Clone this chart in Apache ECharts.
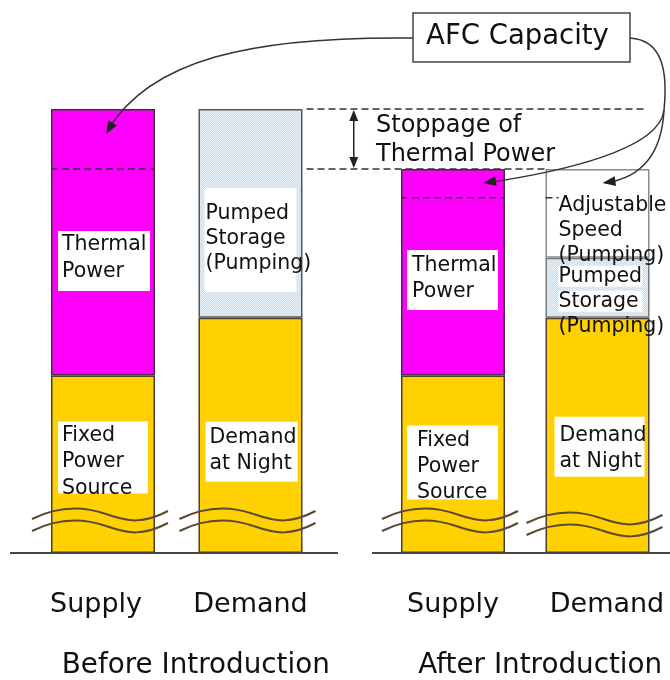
<!DOCTYPE html>
<html><head><meta charset="utf-8">
<script src="https://cdn.jsdelivr.net/npm/echarts@6/dist/echarts.min.js"></script>
<style>html,body{margin:0;padding:0;background:#fff}#c{width:670px;height:680px}</style>
</head><body><div id="c"></div>
<script>
// ---- data ----
const groupNames = ['Before Introduction', 'After Introduction'];
const categories = ['Supply', 'Demand'];
const beforeBase = [40, 53];        // Fixed Power Source / Demand at Night
const beforeUpper = [60, 47];       // Thermal Power / Pumped Storage (Pumping)
const afterBase = [40, 53];         // Fixed Power Source / Demand at Night
const afterUpper = [46.5, 13.5];    // Thermal Power / Pumped Storage (Pumping)
const afterAdjustable = ['-', 20];  // Adjustable Speed (Pumping)
const afcLevels = [86.5, 80];       // AFC capacity boundary inside Supply bars
const baseLabels = [['Fixed\nPower\nSource', 'Demand\nat Night'], ['Fixed\nPower\nSource', 'Demand\nat Night']];
const upperLabels = [['Thermal\nPower', 'Pumped\nStorage\n(Pumping)'], ['Thermal\nPower', 'Pumped\nStorage\n(Pumping)']];
const adjustableLabel = 'Adjustable\nSpeed\n(Pumping)';
const afcTitle = 'AFC Capacity';
const stoppageText = ['Stoppage of', 'Thermal Power'];

// ---- styling ----
const FONT = 'DejaVu Sans';
const YELLOW = '#FFD100', MAGENTA = '#FF00FF', EDGE = '#4d3d33';
const pat = document.createElement('canvas');
pat.width = 2; pat.height = 2;
(function () {
  const c = pat.getContext('2d');
  c.fillStyle = '#c4dbf1'; c.fillRect(0, 0, 2, 2);
  c.fillStyle = '#e8f2fb'; c.fillRect(0, 0, 1, 1); c.fillRect(1, 1, 1, 1);
})();
const BLUE = { image: pat, repeat: 'repeat' };

function boxLabel(text, pos, pad, width, lh, height) {
  const l = { show: true, formatter: text, position: pos, align: 'left', verticalAlign: 'top',
    color: '#111', fontFamily: FONT, fontSize: 20.5, lineHeight: lh, padding: pad, width: width,
    backgroundColor: '#fff', overflow: 'none' };
  if (height) l.height = height;
  return l;
}
function plainLabel(text, pos, lh) {
  return { show: true, formatter: text, position: pos, align: 'left', verticalAlign: 'top',
    color: '#111', fontFamily: FONT, fontSize: 20.5, lineHeight: lh };
}
function richLabel(text, pos, lh, boxedLines, w) {
  const lines = text.split('\n');
  const fmt = lines.map((s, i) => (i < boxedLines ? '{w|' : '{n|') + s + '}').join('\n');
  const base = { fontFamily: FONT, fontSize: 20.5, lineHeight: lh, color: '#111' };
  return { show: true, formatter: fmt, position: pos, align: 'left', verticalAlign: 'top',
    rich: { w: Object.assign({ backgroundColor: '#fff', width: w }, base), n: base } };
}

const labelLayout = {
  base: [
    [boxLabel(baseLabels[0][0], [7, 46], [1, 4, 0, 4], 82, 26.5, 71),
     boxLabel(baseLabels[0][1], [7, 104], [3, 4, 5, 4], 84, 26)],
    [boxLabel(baseLabels[1][0], [6, 50], [2, 4, 0, 10], 77, 26, 72),
     boxLabel(baseLabels[1][1], [9, 99], [6, 4, 2, 5], 81, 26)]
  ],
  upper: [
    [boxLabel(upperLabels[0][0], [7, 122], [0, 4, 6, 4], 84, 27),
     boxLabel(upperLabels[0][1], [6, 79], [13, 4, 16, 1], 87, 25)],
    [boxLabel(upperLabels[1][0], [6, 81], [3, 4, 5, 5], 82, 26),
     richLabel(upperLabels[1][1], [13, 6], 25, 2, 84)]
  ],
  adjustable: plainLabel(adjustableLabel, [13, 24], 25)
};
// horizontal nudges of the category labels (left pad, right pad) per grid
const catLabelPad = [[[0, 14], [0, 0]], [[0, 0], [19, 0]]];

const chart = echarts.init(document.getElementById('c'), null, { renderer: 'canvas', width: 670, height: 680 });

function mkItems(values, colors, edges, labels) {
  return values.map((v, i) => ({
    value: v,
    itemStyle: { color: colors[i], borderColor: edges[i], borderWidth: 1.5 },
    label: labels[i]
  }));
}

const gridCommon = { top: 109, bottom: 127, outerBoundsMode: 'none', containLabel: false };
const catFont = { fontSize: 27, color: '#111', fontFamily: FONT };
const option = {
  animation: false,
  backgroundColor: '#fff',
  grid: [
    Object.assign({ left: 29.25, width: 295 }, gridCommon),
    Object.assign({ left: 380.75, width: 289 }, gridCommon)
  ],
  xAxis: [0, 1].map(g => ({
    gridIndex: g, type: 'category', data: categories,
    axisLine: { show: false }, axisTick: { show: false }, splitLine: { show: false },
    axisLabel: Object.assign({ interval: 0, hideOverlap: false, margin: 52, verticalAlign: 'middle',
      formatter: (v, i) => '{c' + i + '|' + v + '}',
      rich: {
        c0: Object.assign({ padding: [0, catLabelPad[g][0][1], 0, catLabelPad[g][0][0]] }, catFont),
        c1: Object.assign({ padding: [0, catLabelPad[g][1][1], 0, catLabelPad[g][1][0]] }, catFont)
      } }, catFont)
  })),
  yAxis: [0, 1].map(g => ({ gridIndex: g, type: 'value', min: 0, max: 100, show: false })),
  series: [
    { type: 'bar', xAxisIndex: 0, yAxisIndex: 0, stack: 'before', barWidth: 104,
      data: mkItems(beforeBase, [YELLOW, YELLOW], [EDGE, EDGE], labelLayout.base[0]) },
    { type: 'bar', xAxisIndex: 0, yAxisIndex: 0, stack: 'before', barWidth: 104,
      data: mkItems(beforeUpper, [MAGENTA, BLUE], ['#4a2a44', '#555'], labelLayout.upper[0]) },
    { type: 'bar', xAxisIndex: 1, yAxisIndex: 1, stack: 'after', barWidth: 104,
      data: mkItems(afterBase, [YELLOW, YELLOW], [EDGE, EDGE], labelLayout.base[1]) },
    { type: 'bar', xAxisIndex: 1, yAxisIndex: 1, stack: 'after', barWidth: 104,
      data: mkItems(afterUpper, [MAGENTA, BLUE], ['#4a2a44', '#777'], labelLayout.upper[1]) },
    { type: 'bar', xAxisIndex: 1, yAxisIndex: 1, stack: 'after', barWidth: 104,
      data: afterAdjustable.map((v, i) => (v === '-' ? '-' : {
        value: v, itemStyle: { color: '#fff', borderColor: '#8c8c8c', borderWidth: 1.5 },
        label: labelLayout.adjustable })) }
  ]
};
chart.setOption(option);

// ---- annotations positioned from the axes ----
const px = (g, c, v) => chart.convertToPixel({ gridIndex: g }, [c, v]);
const HALF = 52;
const yBase = px(0, 0, 0)[1];
const levelBefore = beforeBase[0] + beforeUpper[0];
const levelAfter = afterBase[0] + afterUpper[0];
const yTopB = px(0, 0, levelBefore)[1];
const yTopA = px(1, 0, levelAfter)[1];
const cx = [px(0, 0, 0)[0], px(0, 1, 0)[0], px(1, 0, 0)[0], px(1, 1, 0)[0]];
const yAfc = [px(0, 0, afcLevels[0])[1], px(1, 0, afcLevels[1])[1]];

const G = [];
const DASH = { stroke: '#333', lineWidth: 1.5, lineDash: [7, 4] };
function line(x1, y1, x2, y2, style) { G.push({ type: 'line', z: 100, shape: { x1, y1, x2, y2 }, style: Object.assign({}, style) }); }
function bez(p, style) {
  G.push({ type: 'bezierCurve', z: 100,
    shape: { x1: p[0], y1: p[1], cpx1: p[2], cpy1: p[3], cpx2: p[4], cpy2: p[5], x2: p[6], y2: p[7] },
    style: Object.assign({ fill: null }, style) });
}
function head(tx, ty, fx, fy, len, hw) {
  const dx = tx - fx, dy = ty - fy, n = Math.hypot(dx, dy), ux = dx / n, uy = dy / n;
  const bx = tx - ux * len, by = ty - uy * len;
  G.push({ type: 'polygon', z: 101, shape: { points: [[tx, ty], [bx - uy * hw, by + ux * hw], [bx + uy * hw, by - ux * hw]] }, style: { fill: '#222' } });
}
function text(t, x, y, size, align) {
  G.push({ type: 'text', z: 102, x, y, style: { text: t, fontSize: size, fontFamily: FONT, fill: '#111', align: align || 'center', verticalAlign: 'middle' } });
}

// baselines
line(10, yBase, 338, yBase, { stroke: '#444', lineWidth: 2 });
line(372, yBase, 670, yBase, { stroke: '#444', lineWidth: 2 });

// break marks
const WAVE = { stroke: '#5a4a30', lineWidth: 2 };
function wave(c, y) {
  bez([c - 71, y + 7, c - 45, y - 6, c - 20, y - 6, c + 3, y + 2], WAVE);
  bez([c + 3, y + 2, c + 26, y + 10, c + 40, y + 12, c + 65, y - 1], WAVE);
}
cx.forEach((c, i) => {
  const off = i === 3 ? 4 : 0;
  wave(c, yBase - 41 + off);
  wave(c, yBase - 29 + off);
});

// AFC dashed levels inside Supply bars
line(cx[0] - HALF, yAfc[0], cx[0] + HALF, yAfc[0], DASH);
line(cx[2] - HALF, yAfc[1], cx[2] + HALF, yAfc[1], DASH);
line(cx[3] - HALF, yAfc[1], cx[3] - HALF + 13, yAfc[1], DASH);
// long level lines
line(cx[1] + HALF + 4, yTopB, 645, yTopB, DASH);
line(cx[1] + HALF + 4, yTopA, cx[3] - HALF, yTopA, DASH);

// stoppage arrow
const sx = (cx[1] + HALF + cx[2] - HALF) / 2 + 2;
line(sx, yTopB + 8, sx, yTopA - 8, { stroke: '#222', lineWidth: 1.5 });
head(sx, yTopB + 1, sx, yTopB + 20, 11, 4.5);
head(sx, yTopA - 1, sx, yTopA - 20, 11, 4.5);
text(stoppageText[0], 376, 125.5, 24, 'left');
text(stoppageText[1], 376, 155, 24, 'left');

// AFC box and curved arrows
G.push({ type: 'rect', z: 100, shape: { x: 413, y: 13, width: 217, height: 49 }, style: { fill: '#fff', stroke: '#444', lineWidth: 1.5 } });
text(afcTitle, 517.5, 37, 27.5);
const CURVE = { stroke: '#333', lineWidth: 1.5 };
const t1 = [cx[0] + 3, yTopB + 25];
bez([413, 38, 250, 36, 150, 60, t1[0] + 2, t1[1] - 4], CURVE);
head(t1[0], t1[1], 150, 60, 13, 5);
const t2 = [cx[2] + 30, yTopA + 14];
bez([630, 38, 662, 40, 668, 70, 664, 110], CURVE);
bez([664, 110, 660, 150, 560, 172, t2[0] + 3, t2[1]], CURVE);
head(t2[0], t2[1], 560, 172, 13, 5);
const t3 = [cx[3] + 5, yTopA + 14];
bez([664, 110, 662, 150, 645, 177, t3[0] + 3, t3[1]], CURVE);
head(t3[0], t3[1], 645, 177, 13, 5);

// group names
text(groupNames[0], (cx[0] + cx[1]) / 2 + 19, 666, 27.8);
text(groupNames[1], (cx[2] + cx[3]) / 2 + 15, 666, 27.8);

chart.setOption({ graphic: G });
</script>
</body></html>
